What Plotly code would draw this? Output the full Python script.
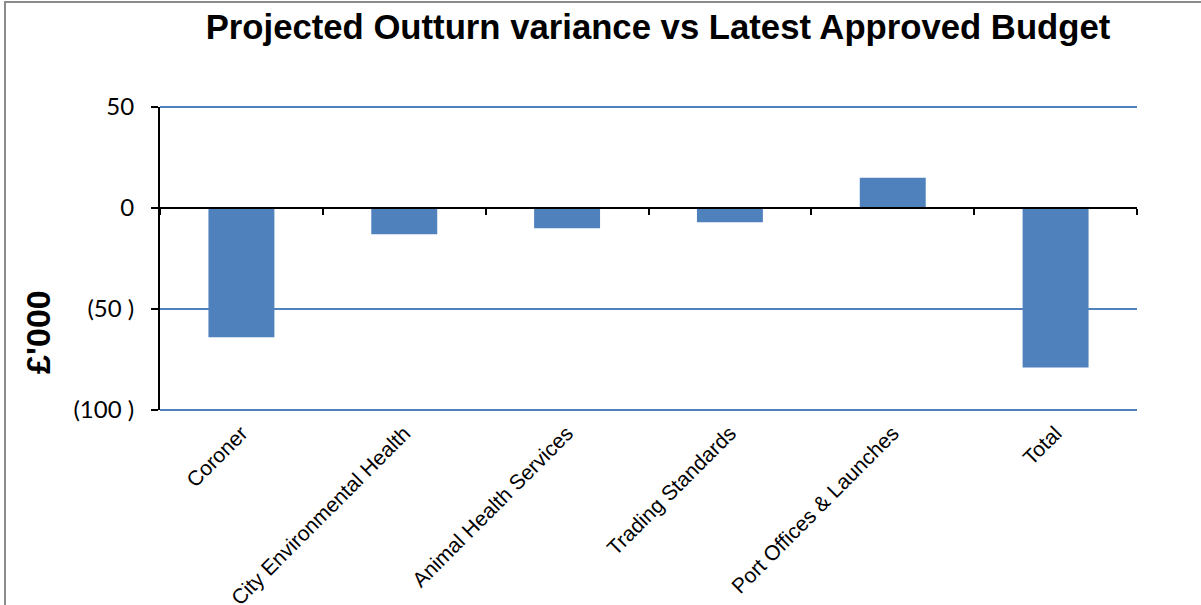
import plotly.graph_objects as go

categories = ["Coroner", "City Environmental Health", "Animal Health Services",
              "Trading Standards", "Port Offices & Launches", "Total"]
variance = [-64, -13, -10, -7, 15, -79]
y_tickvals = [50, 0, -50, -100]
y_ticktext = ["50", "0", "(50 )", "(100 )"]

W, H = 1201, 605
L, R, T, B = 160, 64, 107, 195
pw, ph = W - L - R, H - T - B
ymin, ymax = -100, 50

fig = go.Figure()
fig.add_trace(go.Bar(x=list(range(len(categories))), y=variance,
                     marker=dict(color="#4F81BD", line=dict(width=0)),
                     width=0.405, hoverinfo="skip"))
# invisible trace on the zero-crossing axis
fig.add_trace(go.Scatter(x=[-0.5, len(categories) - 0.5], y=[0, 0], xaxis="x2",
                         mode="none", showlegend=False, hoverinfo="skip"))

grid_shapes = [dict(type="line", xref="paper", yref="paper", x0=0, x1=1,
                    y0=(v - ymin) / (ymax - ymin), y1=(v - ymin) / (ymax - ymin),
                    line=dict(color="#4F81BD", width=2), layer="below")
               for v in y_tickvals if v != 0]

fig.update_layout(
    width=W, height=H,
    margin=dict(l=L, r=R, t=T, b=B, autoexpand=False),
    paper_bgcolor="white", plot_bgcolor="white",
    showlegend=False,
    title=dict(text="<b>Projected Outturn variance vs Latest Approved Budget</b>",
               x=658 / W, xref="container", xanchor="center",
               y=1 - 27 / H, yref="container", yanchor="middle",
               font=dict(family="Liberation Sans, Arial", size=34.7, color="black")),
    xaxis=dict(range=[-0.5, len(categories) - 0.5], automargin=False,
               tickvals=list(range(len(categories))), ticktext=categories,
               tickangle=-45, showgrid=False, zeroline=False, showline=False,
               ticks="", ticklabelstandoff=6,
               tickfont=dict(family="Liberation Sans, Arial", size=21, color="black")),
    xaxis2=dict(overlaying="x", anchor="free", automargin=False,
                position=(0 - ymin) / (ymax - ymin),
                side="bottom", range=[-0.5, len(categories) - 0.5],
                tickvals=[i - 0.5 for i in range(len(categories) + 1)],
                showticklabels=False, ticks="outside", ticklen=6, tickwidth=2,
                tickcolor="black", showline=True, linecolor="black", linewidth=2,
                showgrid=False, zeroline=False),
    yaxis=dict(range=[ymin, ymax], tickvals=y_tickvals, ticktext=y_ticktext,
               automargin=False, showgrid=False,
               zeroline=False, showline=True, linecolor="black", linewidth=2,
               ticks="outside", ticklen=7, tickwidth=2, tickcolor="black",
               ticklabelstandoff=12,
               tickfont=dict(family="Lato, Liberation Sans", size=24, color="black")),
    annotations=[dict(text="<b>£'000</b>", textangle=-90, xref="paper", yref="paper",
                      x=(38 - L) / pw, y=(H - B - 332) / ph, xanchor="center",
                      yanchor="middle", showarrow=False,
                      font=dict(family="Liberation Sans, Arial", size=34, color="black"))],
    shapes=grid_shapes + [dict(type="rect", xref="paper", yref="paper",
                 x0=(5 - L) / pw, x1=(W + 20 - L) / pw,
                 y0=(H - B - (H + 20)) / ph, y1=(H - B - 2) / ph,
                 line=dict(color="#8C8C8C", width=2), layer="below")],
)

fig.write_html("out.html", post_script="document.body.style.margin='0';",
               config={"displayModeBar": False})
